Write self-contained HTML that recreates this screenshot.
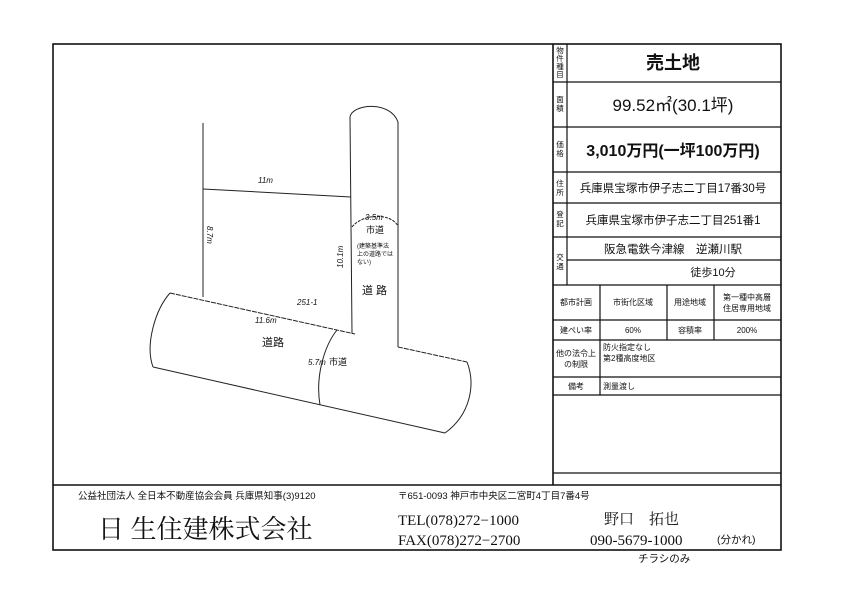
<!DOCTYPE html>
<html><head><meta charset="utf-8"><style>
html,body{margin:0;padding:0;background:#fff;}
svg{display:block;}
text{font-family:"Liberation Sans","Noto Sans CJK JP",sans-serif;fill:#111;}
.s{font-family:"Liberation Serif","Noto Serif CJK SC",serif;}
</style></head><body>
<svg width="842" height="595" viewBox="0 0 842 595" xmlns="http://www.w3.org/2000/svg">
<g stroke="#111" fill="none" stroke-width="1.6">
<rect x="53" y="44" width="728" height="506"/>
<line x1="53" y1="485" x2="781" y2="485"/>
<line x1="553" y1="44" x2="553" y2="485"/>
</g>
<g stroke="#111" fill="none" stroke-width="1.2">
<line x1="567" y1="44" x2="567" y2="285"/>
<line x1="553" y1="82" x2="781" y2="82"/>
<line x1="553" y1="127" x2="781" y2="127"/>
<line x1="553" y1="172" x2="781" y2="172"/>
<line x1="553" y1="203" x2="781" y2="203"/>
<line x1="553" y1="237" x2="781" y2="237"/>
<line x1="567" y1="260" x2="781" y2="260"/>
<line x1="553" y1="285" x2="781" y2="285"/>
<line x1="553" y1="320" x2="781" y2="320"/>
<line x1="553" y1="340" x2="781" y2="340"/>
<line x1="553" y1="377" x2="781" y2="377"/>
<line x1="553" y1="395" x2="781" y2="395"/>
<line x1="553" y1="473" x2="781" y2="473"/>
<line x1="600" y1="285" x2="600" y2="395"/>
<line x1="667" y1="285" x2="667" y2="340"/>
<line x1="714" y1="285" x2="714" y2="340"/>
</g>
<g font-size="7.5" text-anchor="middle">
<text x="560" y="53">物</text><text x="560" y="61">件</text><text x="560" y="69">種</text><text x="560" y="77">目</text>
<text x="560" y="102">面</text><text x="560" y="111">積</text>
<text x="560" y="147">価</text><text x="560" y="156">格</text>
<text x="560" y="186">住</text><text x="560" y="195">所</text>
<text x="560" y="217">登</text><text x="560" y="226">記</text>
<text x="560" y="260">交</text><text x="560" y="269">通</text>
</g>
<text x="673" y="69" font-size="18" font-weight="bold" text-anchor="middle">売土地</text>
<text x="673" y="111" font-size="17" text-anchor="middle">99.52㎡(30.1坪)</text>
<text x="673" y="156" font-size="16" font-weight="bold" text-anchor="middle">3,010万円(一坪100万円)</text>
<text x="673" y="192" font-size="11.5" text-anchor="middle">兵庫県宝塚市伊子志二丁目17番30号</text>
<text x="673" y="224" font-size="11.5" text-anchor="middle">兵庫県宝塚市伊子志二丁目251番1</text>
<text x="673" y="253" font-size="11.5" text-anchor="middle">阪急電鉄今津線　逆瀬川駅</text>
<text x="713" y="276" font-size="11" text-anchor="middle">徒歩10分</text>
<g font-size="8" text-anchor="middle">
<text x="576" y="305">都市計画</text>
<text x="633" y="305">市街化区域</text>
<text x="690" y="305">用途地域</text>
<text x="747" y="300">第一種中高層</text><text x="747" y="311">住居専用地域</text>
<text x="576" y="333">建ぺい率</text>
<text x="633" y="333">60%</text>
<text x="690" y="333">容積率</text>
<text x="747" y="333">200%</text>
<text x="576" y="356">他の法令上</text><text x="576" y="367">の制限</text>
<text x="576" y="389">備考</text>
</g>
<g font-size="8">
<text x="603" y="350">防火指定なし</text>
<text x="603" y="361">第2種高度地区</text>
<text x="603" y="389">測量渡し</text>
</g>
<!-- plan -->
<g stroke="#222" fill="none" stroke-width="1">
<line x1="203" y1="123" x2="203" y2="297"/>
<line x1="203" y1="189" x2="351" y2="197"/>
<line x1="350" y1="117" x2="352" y2="333"/>
<path d="M350,117 C352,104 390,100 398,122"/>
<line x1="398" y1="122" x2="398" y2="347"/>
<path d="M352,227 C362,214 390,212 398,226" stroke-dasharray="3,1"/>
<path d="M170,293 L355,334" stroke-dasharray="5,1"/>
<path d="M398,347 L467,362" stroke-dasharray="5,1"/>
<line x1="153" y1="367" x2="445" y2="433"/>
<path d="M170,293 C155,310 145,345 153,367"/>
<path d="M467,362 C476,385 470,415 445,433"/>
<path d="M337,330 C325,345 315,375 320,405"/>
</g>
<g font-size="8" font-style="italic">
<text x="258" y="183">11m</text>
<text x="365" y="220">3.5m</text>
<text x="297" y="305">251-1</text>
<text x="255" y="323">11.6m</text>
<text x="308" y="365">5.7m</text>
</g>
<text x="207" y="226" font-size="8" font-style="italic" transform="rotate(90 207 226)">8.7m</text>
<text x="343" y="268" font-size="8" font-style="italic" transform="rotate(-90 343 268)">10.1m</text>
<g font-size="9">
<text x="366" y="233">市道</text>
<text x="329" y="365">市道</text>
<text x="362" y="294" font-size="11">道 路</text>
<text x="262" y="346" font-size="11">道路</text>
</g>
<g font-size="6">
<text x="357" y="248">(建築基準法</text>
<text x="357" y="256">上の道路では</text>
<text x="357" y="264">ない)</text>
</g>
<!-- footer -->
<text x="78" y="499" font-size="9.5">公益社団法人 全日本不動産協会会員 兵庫県知事(3)9120</text>
<text x="98" y="538" font-size="26" class="s" font-family="Noto Serif CJK SC, serif">日 生住建株式会社</text>
<text x="398" y="499" font-size="9.5">〒651-0093 神戸市中央区二宮町4丁目7番4号</text>
<text x="398" y="525" font-size="15" class="s">TEL(078)272−1000</text>
<text x="398" y="545" font-size="15" class="s">FAX(078)272−2700</text>
<text x="604" y="524" font-size="15" class="s">野口　拓也</text>
<text x="590" y="545" font-size="15" class="s">090-5679-1000</text>
<text x="717" y="543" font-size="10.5">(分かれ)</text>
<text x="638" y="562" font-size="10.5">チラシのみ</text>
</svg>
</body></html>
